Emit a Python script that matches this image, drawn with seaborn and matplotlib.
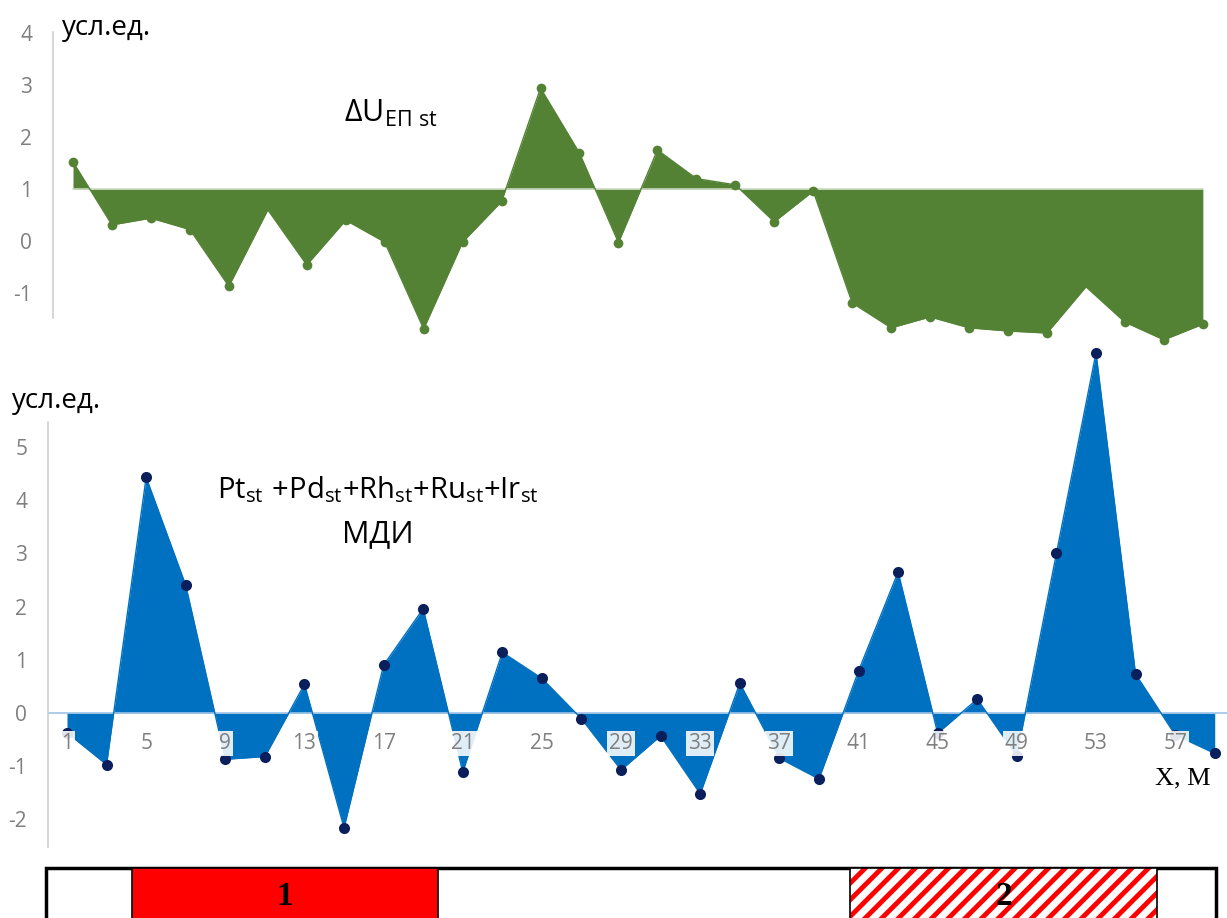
import numpy as np
import pandas as pd
import seaborn as sns
import matplotlib
matplotlib.use("Agg")
import matplotlib.pyplot as plt
from matplotlib.patches import Rectangle

# ---------------- data ----------------
x_pos = list(range(1, 60, 2))  # 1,3,...,59 (m)

du_ep = [1.52, 0.31, 0.44, 0.22, -0.87, 0.60, -0.46, 0.40, -0.02, -1.69,
         -0.02, 0.76, 2.94, 1.69, -0.03, 1.75, 1.20, 1.08, 0.37, 0.96,
         -1.19, -1.67, -1.46, -1.67, -1.73, -1.77, -0.88, -1.56, -1.90, -1.60]

pgm_sum = [-0.37, -0.97, 4.43, 2.40, -0.87, -0.82, 0.54, -2.16, 0.90, 1.96,
           -1.11, 1.14, 0.65, -0.11, -1.07, -0.43, -1.52, 0.56, -0.85, -1.24,
           0.79, 2.65, -0.38, 0.26, -0.81, 3.00, 6.77, 0.73, -0.41, -0.76]

du_baseline = 1.0
top_yticks = [-1, 0, 1, 2, 3, 4]
bot_yticks = [-2, -1, 0, 1, 2, 3, 4, 5]
bot_xticks = list(range(1, 58, 4))

zones = [(4.28, 19.75, "1", "solid"), (40.57, 56.08, "2", "hatch")]
strip_span = (-0.06, 59.06)

unit_label = "усл.ед."
x_label = "Х, М"

# ---------------- style ----------------
sns.set_theme(style="white")
plt.rcParams["font.family"] = ["Open Sans", "DejaVu Sans"]
plt.rcParams["axes.unicode_minus"] = False
plt.rcParams["mathtext.fontset"] = "custom"
plt.rcParams["mathtext.rm"] = "Open Sans"
plt.rcParams["mathtext.it"] = "Open Sans"
plt.rcParams["mathtext.bf"] = "Open Sans:bold"
plt.rcParams["hatch.linewidth"] = 3.5
plt.rcParams["hatch.color"] = "#ff0000"

GREEN = "#548235"
BLUE = "#0070c0"
NAVY = "#0b1f5c"
GREY = "#7f7f7f"

W, H = 1227, 918
fig = plt.figure(figsize=(W / 100, H / 100), dpi=100)


def frect(l, t, r, b):
    return [l / W, 1 - b / H, (r - l) / W, (b - t) / H]


df = pd.DataFrame({"x": x_pos, "du": du_ep, "pgm": pgm_sum})

# ---------------- top panel ----------------
ax1 = fig.add_axes(frect(53, 20, 1227, 350))
ax1.set_xlim(-0.027, 60.24)
ax1.set_ylim(-2.096, 4.25)
ax1.fill_between(df["x"], df["du"], du_baseline, color=GREEN, linewidth=0, zorder=1)
ax1.plot([x_pos[0], x_pos[-1]], [du_baseline, du_baseline], color="#c8d8bd", lw=1.2, zorder=1.5)
mk = [i for i in range(len(x_pos)) if i not in (5, 26)]
sns.lineplot(data=df, x="x", y="du", ax=ax1, color=GREEN, lw=1.0,
             marker="o", markersize=7, markeredgewidth=0, markevery=mk, zorder=2)
ax1.set_yticks(top_yticks)
ax1.set_xticks([])
ax1.set_xlabel("")
ax1.set_ylabel("")
for s in ["top", "right", "bottom"]:
    ax1.spines[s].set_visible(False)
ax1.spines["left"].set_bounds(-1.48, 4.02)
ax1.spines["left"].set_color("#d0d0d0")
ax1.spines["left"].set_linewidth(1.2)
ax1.tick_params(axis="y", length=0, pad=15, labelsize=15, labelcolor=GREY)
ax1.patch.set_alpha(0)

# ---------------- bottom panel ----------------
ax2 = fig.add_axes(frect(48, 330, 1227, 855))
ax2.set_xlim(0.04, 59.62)
ax2.set_ylim(-2.67, 7.2)
ax2.set_axisbelow(False)
ax2.fill_between(df["x"], df["pgm"], 0, color=BLUE, linewidth=0, zorder=1)
ax2.axhline(0, color="#9dc3e6", lw=1.2, zorder=1.5)
sns.lineplot(data=df, x="x", y="pgm", ax=ax2, color=BLUE, lw=1.0,
             marker="o", markersize=8, markerfacecolor=NAVY,
             markeredgewidth=0, zorder=2)
ax2.set_yticks(bot_yticks)
ax2.set_xticks(bot_xticks)
ax2.set_xlabel("")
ax2.set_ylabel("")
for s in ["top", "right", "bottom"]:
    ax2.spines[s].set_visible(False)
ax2.spines["left"].set_bounds(-2.52, 5.47)
ax2.spines["left"].set_color("#d0d0d0")
ax2.spines["left"].set_linewidth(1.2)
ax2.tick_params(axis="y", length=0, pad=15, labelsize=15, labelcolor=GREY)
ax2.tick_params(axis="x", length=0, labelsize=15, labelcolor=GREY, pad=0)
ax2.xaxis.set_ticks_position("bottom")
ax2.spines["bottom"].set_position(("data", -0.57))
for lbl in ax2.get_xticklabels():
    lbl.set_va("center")
    lbl.set_bbox(dict(facecolor="white", edgecolor="none", alpha=0.88, pad=1.5))
ax2.patch.set_alpha(0)

# ---------------- zone strip ----------------
ax3 = fig.add_axes(frect(48, 868, 1227, 935))
ax3.set_xlim(0.04, 59.62)
ax3.set_ylim(0, 1)
ax3.axis("off")
ax3.add_patch(Rectangle((strip_span[0], 0), strip_span[1] - strip_span[0], 1,
                        facecolor="white", edgecolor="black", lw=2.5, clip_on=False))
for x0, x1, lab, kind in zones:
    if kind == "solid":
        ax3.add_patch(Rectangle((x0, 0), x1 - x0, 1, facecolor="#ff0000",
                                edgecolor="black", lw=1.2, clip_on=False))
    else:
        ax3.add_patch(Rectangle((x0, 0), x1 - x0, 1, facecolor="white",
                                edgecolor="#ff0000", hatch="//", lw=0, clip_on=False))
        ax3.add_patch(Rectangle((x0, 0), x1 - x0, 1, facecolor="none",
                                edgecolor="black", lw=1.2, clip_on=False))
    ax3.text((x0 + x1) / 2, 0.58, lab, ha="center", va="center",
             family="Liberation Serif", fontweight="bold", fontsize=24, color="black")

# ---------------- texts ----------------
fig.text(62 / W, 1 - 28 / H, unit_label, ha="left", va="center", fontsize=20, color="black")
fig.text(12 / W, 1 - 401 / H, unit_label, ha="left", va="center", fontsize=20, color="black")
fig.text(391 / W, 1 - 113 / H, r"$\mathrm{ΔU_{ЕП\ st}}$", ha="center", va="center",
         fontsize=22, color="black")
fig.text(378 / W, 1 - 490 / H,
         r"$\mathrm{Pt_{st}\ {+}Pd_{st}{+}Rh_{st}{+}Ru_{st}{+}Ir_{st}}$",
         ha="center", va="center", fontsize=21, color="black")
fig.text(378 / W, 1 - 534 / H, "МДИ", ha="center", va="center", fontsize=22, color="black")
fig.text(1183 / W, 1 - 778 / H, x_label, ha="center", va="center",
         family="Liberation Serif", fontsize=19, color="black")

fig.savefig("out.png", dpi=100)
